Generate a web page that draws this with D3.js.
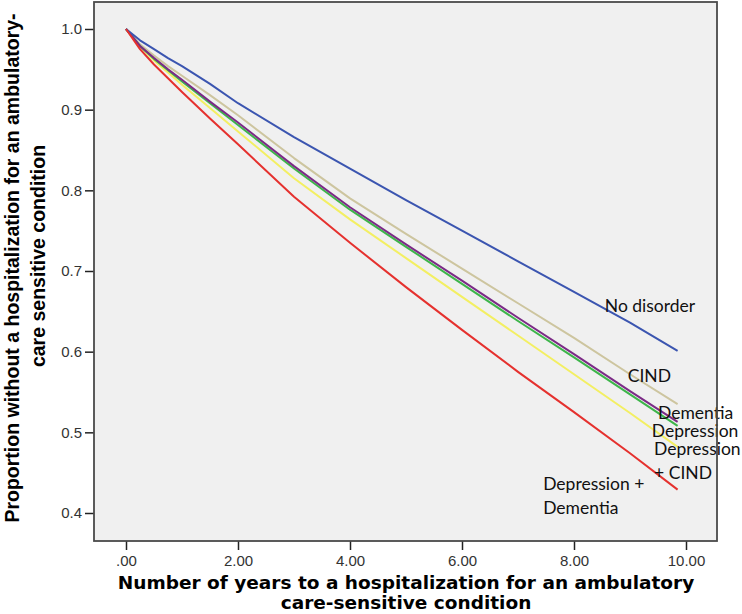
<!DOCTYPE html>
<html><head><meta charset="utf-8">
<script src="https://cdn.jsdelivr.net/npm/d3@7"></script>
<style>html,body{margin:0;padding:0;background:#fff;}svg{display:block;}</style>
</head><body>
<div id="chart"></div>
<script>
// ---- data ----
const years = [0, 0.25, 0.5, 0.75, 1, 1.5, 2, 3, 4, 5, 6, 7, 8, 9, 9.85];
const noDisorder   = [1, 0.986, 0.975, 0.964, 0.954, 0.932, 0.908, 0.866, 0.827, 0.788, 0.750, 0.712, 0.674, 0.636, 0.601];
const cind         = [1, 0.981, 0.967, 0.954, 0.942, 0.918, 0.893, 0.840, 0.790, 0.746, 0.703, 0.660, 0.617, 0.572, 0.535];
const dementia     = [1, 0.979, 0.964, 0.950, 0.937, 0.910, 0.884, 0.830, 0.779, 0.733, 0.688, 0.642, 0.597, 0.551, 0.513];
const depression   = [1, 0.979, 0.963, 0.949, 0.935, 0.908, 0.881, 0.827, 0.776, 0.730, 0.684, 0.638, 0.593, 0.547, 0.508];
const depCind      = [1, 0.978, 0.961, 0.946, 0.931, 0.902, 0.873, 0.815, 0.764, 0.716, 0.668, 0.620, 0.572, 0.524, 0.482];
const depDementia  = [1, 0.975, 0.956, 0.939, 0.922, 0.889, 0.857, 0.792, 0.735, 0.680, 0.627, 0.575, 0.525, 0.474, 0.429];
const xTicks = [0, 2, 4, 6, 8, 10];
const xTickLabels = [".00", "2.00", "4.00", "6.00", "8.00", "10.00"];
const yTicks = [0.4, 0.5, 0.6, 0.7, 0.8, 0.9, 1.0];
const seriesNames = ["Depression + CIND", "CIND", "Depression", "Dementia", "No disorder", "Depression + Dementia"];
const seriesValues = [depCind, cind, depression, dementia, noDisorder, depDementia];
const seriesColors = ["#f3ef62", "#cdc59f", "#3db54a", "#7b2b86", "#3b55b0", "#e5312e"];
// annotation labels: text lines, anchored at (years, proportion) of first baseline
const annotations = [
  {lines: ["No disorder"], t: 8.55, v: 0.649},
  {lines: ["CIND"], t: 8.96, v: 0.563},
  {lines: ["Dementia"], t: 9.5, v: 0.516},
  {lines: ["Depression"], t: 9.39, v: 0.494},
  {lines: ["Depression", "+ CIND"], t: 9.43, v: 0.472},
  {lines: ["Depression +", "Dementia"], t: 7.45, v: 0.428}
];

const W = 742, H = 614;
const frame = {x0: 94, x1: 717, y0: 2, y1: 541};
const svg = d3.select("#chart").append("svg").attr("width", W).attr("height", H);

const x = d3.scaleLinear().domain([0, 10]).range([126, 686]);
const y = d3.scaleLinear().domain([0.4, 1.0]).range([513, 29]);

svg.append("rect").attr("x", frame.x0).attr("y", frame.y0)
  .attr("width", frame.x1 - frame.x0).attr("height", frame.y1 - frame.y0)
  .attr("fill", "#f0f0f0");

const line = d3.line().x((d, i) => x(years[i])).y(d => y(d));
svg.append("g").selectAll("path").data(seriesValues).join("path")
  .attr("d", d => line(d)).attr("fill", "none")
  .attr("stroke", (d, i) => seriesColors[i]).attr("stroke-width", 2)
  .attr("stroke-linejoin", "round");

// labels
const lab = svg.append("g").attr("font-family", "Lato, 'Open Sans', sans-serif")
  .attr("font-size", 17.5).attr("fill", "#111");
annotations.forEach(a => {
  a.lines.forEach((l, j) => {
    lab.append("text").attr("x", x(a.t)).attr("y", y(a.v) + j * 24).text(l);
  });
});

// axes
const xAxis = svg.append("g").attr("transform", `translate(0,${frame.y1})`)
  .call(d3.axisBottom(x).tickValues(xTicks).tickFormat((d, i) => xTickLabels[i]).tickSize(9).tickPadding(5));
const yAxis = svg.append("g").attr("transform", `translate(${frame.x0},0)`)
  .call(d3.axisLeft(y).tickValues(yTicks).tickFormat(d3.format(".1f")).tickSize(9).tickPadding(3));
[xAxis, yAxis].forEach(g => {
  g.select(".domain").remove();
  g.selectAll("line").attr("stroke", "#222").attr("stroke-width", 1.5);
  g.selectAll("text").attr("font-family", "'Liberation Sans', Arial, sans-serif")
    .attr("font-size", 15).attr("fill", "#333");
});

// frame border on top
svg.append("rect").attr("x", frame.x0).attr("y", frame.y0)
  .attr("width", frame.x1 - frame.x0).attr("height", frame.y1 - frame.y0)
  .attr("fill", "none").attr("stroke", "#4a4a4a").attr("stroke-width", 1.8);

// axis titles
const xt = svg.append("g").attr("font-family", "'DejaVu Sans', Verdana, sans-serif").attr("font-weight", "bold")
  .attr("font-size", 18.5).attr("fill", "#000").attr("text-anchor", "middle");
xt.append("text").attr("x", 406).attr("y", 589).text("Number of years to a hospitalization for an ambulatory");
xt.append("text").attr("x", 406).attr("y", 609).text("care-sensitive condition");
const yt = svg.append("g").attr("font-family", "'Liberation Sans', Arial, sans-serif").attr("font-weight", "bold")
  .attr("font-size", 19.5).attr("fill", "#000").attr("text-anchor", "middle");
yt.append("text").attr("transform", "translate(19,268) rotate(-90)").text("Proportion without a hospitalization for an ambulatory-");
yt.append("text").attr("transform", "translate(45,256) rotate(-90)").text("care sensitive condition");
</script>
</body></html>
